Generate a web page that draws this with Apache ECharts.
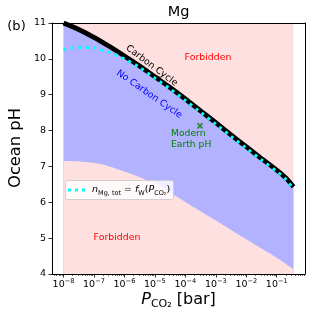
<!DOCTYPE html>
<html><head><meta charset="utf-8">
<script src="https://cdn.jsdelivr.net/npm/echarts@6/dist/echarts.min.js"></script>
<style>html,body{margin:0;padding:0;background:#fff}#c{width:312px;height:317px}</style>
</head><body><div id="c"></div>
<script>
// x values are log10(P_CO2 / bar)
const regionX = [-8, -0.45];
const topPH = [11, 11];
const carbonX = [-8, -7.5, -7, -6.5, -6, -5.5, -5, -4.5, -4, -3.5, -3, -2.5, -2, -1.5, -1, -0.7, -0.45];
const carbonPH = [11.0, 10.82, 10.6, 10.35, 10.08, 9.8, 9.5, 9.2, 8.88, 8.55, 8.22, 7.88, 7.55, 7.22, 6.9, 6.68, 6.43];
const lowerX = [-8, -7.5, -7, -6.5, -6, -5.5, -5, -4.5, -4, -3.5, -3, -2.5, -2, -1.5, -1, -0.45];
const lowerPH = [7.15, 7.14, 7.1, 7.0, 6.86, 6.7, 6.53, 6.27, 6.01, 5.75, 5.49, 5.23, 4.97, 4.71, 4.45, 4.13];
const fwX = [-8, -7.5, -7, -6.5, -6, -5.5, -5, -4.5, -4, -3.5, -3, -2.5, -2, -1.5, -1, -0.7, -0.45];
const fwPH = [10.26, 10.32, 10.3, 10.18, 10.0, 9.76, 9.46, 9.16, 8.84, 8.51, 8.18, 7.84, 7.51, 7.18, 6.86, 6.64, 6.38];
const modernX = [-3.52];
const modernPH = [8.13];
const xTickPowers = [-8, -7, -6, -5, -4, -3, -2, -1];
const yTicks = [4, 5, 6, 7, 8, 9, 10, 11];

const zip = (a, b) => a.map((v, i) => [v, b[i]]);
const minorTicks = [];
for (let n = -9; n <= 0; n++) for (let k = 2; k <= 9; k++) {
  const v = n + Math.log10(k);
  if (v > -8.37 && v < -0.08) minorTicks.push(v);
}
const FONT = 'DejaVu Sans';
const PINK = '#ffe0e0', BLUE = '#b2b2ff';

const chart = echarts.init(document.getElementById('c'), null, {renderer: 'canvas'});
chart.setOption({
  animation: false,
  grid: {left: 52, top: 23, width: 253, height: 251, show: false},
  xAxis: [{
    type: 'value', min: -8.3775, max: -0.0725, position: 'bottom', z: 10,
    axisLine: {show: true, lineStyle: {color: '#000', width: 1}},
    splitLine: {show: false},
    axisTick: {show: true, customValues: xTickPowers, length: 3.5, lineStyle: {color: '#000', width: 0.8}},
    axisLabel: {
      customValues: xTickPowers, margin: 4, color: '#000', fontFamily: FONT,
      formatter: v => '{b|10}{s|\u2212' + Math.abs(Math.round(v)) + '}',
      rich: {
        b: {fontSize: 9.5, lineHeight: 14, verticalAlign: 'middle', fontFamily: FONT, color: '#000'},
        s: {fontSize: 6.6, lineHeight: 7, verticalAlign: 'top', fontFamily: FONT, color: '#000'}
      }
    }
  }, {
    type: 'value', min: -8.3775, max: -0.0725, position: 'bottom', offset: 0, z: 10,
    axisLine: {show: false}, splitLine: {show: false}, axisLabel: {show: false},
    axisTick: {show: true, customValues: minorTicks, length: 2, lineStyle: {color: '#000', width: 0.6}}
  }, {
    type: 'value', min: -8.3775, max: -0.0725, position: 'top', z: 10,
    axisLine: {show: true, lineStyle: {color: '#000', width: 1}},
    axisTick: {show: false}, axisLabel: {show: false}, splitLine: {show: false}
  }],
  yAxis: [{
    type: 'value', min: 4, max: 11, interval: 1, position: 'left', z: 10,
    axisLine: {show: true, lineStyle: {color: '#000', width: 1}},
    splitLine: {show: false},
    axisTick: {show: true, length: 3.5, lineStyle: {color: '#000', width: 0.8}},
    axisLabel: {margin: 6, fontSize: 9.5, color: '#000', fontFamily: FONT}
  }, {
    type: 'value', min: 4, max: 11, interval: 1, position: 'right', z: 10,
    axisLine: {show: true, lineStyle: {color: '#000', width: 1}},
    axisTick: {show: false}, axisLabel: {show: false}, splitLine: {show: false}
  }],
  series: [
    {type: 'line', data: zip(regionX, topPH), symbol: 'none', lineStyle: {width: 0},
     areaStyle: {color: PINK, opacity: 1, origin: 'start'}, z: 1},
    {type: 'line', data: zip(carbonX, carbonPH), symbol: 'none', lineStyle: {width: 0},
     areaStyle: {color: BLUE, opacity: 1, origin: 'start'}, z: 2},
    {type: 'line', data: zip(lowerX, lowerPH), symbol: 'none', smooth: 0.3, lineStyle: {width: 0},
     areaStyle: {color: PINK, opacity: 1, origin: 'start'}, z: 3},
    {type: 'line', data: zip(carbonX, carbonPH), symbol: 'none', smooth: 0.3,
     lineStyle: {color: '#000', width: 4.8, cap: 'butt'}, z: 4},
    {type: 'line', data: zip(fwX, fwPH), symbol: 'none', smooth: 0.3,
     lineStyle: {color: '#00ffff', width: 3, type: [3, 4.5], cap: 'butt'}, z: 5},
    {type: 'scatter', data: zip(modernX, modernPH), symbol: 'path://M0,0L10,10M10,0L0,10', symbolSize: 5,
     itemStyle: {color: 'rgba(0,0,0,0)', borderColor: '#008000', borderWidth: 1.6}, z: 6}
  ],
  graphic: [
    {type: 'text', z: 100, x: 178.5, y: 12.5, style: {text: 'Mg', fontSize: 14.5, fontFamily: FONT, fill: '#000', align: 'center', verticalAlign: 'middle'}},
    {type: 'text', z: 100, x: 16.5, y: 27, style: {text: '(b)', fontSize: 13, fontFamily: FONT, fill: '#000', align: 'center', verticalAlign: 'middle'}},
    {type: 'text', z: 100, x: 16, y: 148, rotation: Math.PI / 2, style: {text: 'Ocean pH', fontSize: 16.3, fontFamily: FONT, fill: '#000', align: 'center', verticalAlign: 'middle'}},
    {type: 'text', z: 100, x: 178.5, y: 300, style: {
      text: '{i|P}{sub|CO\u2082}{r| [bar]}', fill: '#000', align: 'center', verticalAlign: 'middle',
      rich: {
        i: {fontSize: 16, fontStyle: 'italic', fontFamily: FONT, lineHeight: 20, verticalAlign: 'middle', fill: '#000'},
        r: {fontSize: 16, fontFamily: FONT, lineHeight: 20, verticalAlign: 'middle', fill: '#000'},
        sub: {fontSize: 11, fontFamily: FONT, lineHeight: 10, verticalAlign: 'bottom', fill: '#000'}
      }}},
    {type: 'text', z: 100, x: 208, y: 58, style: {text: 'Forbidden', fontSize: 9.4, fontFamily: FONT, fill: '#ff0000', align: 'center', verticalAlign: 'middle'}},
    {type: 'text', z: 100, x: 117, y: 238, style: {text: 'Forbidden', fontSize: 9.4, fontFamily: FONT, fill: '#ff0000', align: 'center', verticalAlign: 'middle'}},
    {type: 'text', z: 100, x: 151.7, y: 65.7, rotation: -37 * Math.PI / 180, style: {text: 'Carbon Cycle', fontSize: 9.3, fontFamily: FONT, fill: '#000', align: 'center', verticalAlign: 'middle'}},
    {type: 'text', z: 100, x: 149.2, y: 94.2, rotation: -34.7 * Math.PI / 180, style: {text: 'No Carbon Cycle', fontSize: 9.3, fontFamily: FONT, fill: '#0000ff', align: 'center', verticalAlign: 'middle'}},
    {type: 'text', z: 100, x: 171, y: 128.5, style: {text: 'Modern\nEarth pH', fontSize: 9.2, lineHeight: 10.5, fontFamily: FONT, fill: '#008000', align: 'left', verticalAlign: 'top'}},
    {type: 'rect', shape: {x: 65.5, y: 180.5, width: 108, height: 19, r: 2}, style: {fill: 'rgba(255,255,255,0.8)', stroke: '#d0d0d0', lineWidth: 1}, z: 100},
    {type: 'line', shape: {x1: 68, y1: 190, x2: 87, y2: 190}, style: {stroke: '#00ffff', lineWidth: 3, lineDash: [3, 4], lineCap: 'butt'}, z: 101},
    {type: 'text', x: 92, y: 190, z: 101, style: {
      text: '{i|n}{sub|Mg, tot}{r| = }{i|f}{sub|W}{r|(}{i|P}{sub|CO\u2082}{r|)}', fill: '#000', align: 'left', verticalAlign: 'middle',
      rich: {
        i: {fontSize: 9.5, fontStyle: 'italic', fontFamily: FONT, lineHeight: 13, verticalAlign: 'middle', fill: '#000'},
        r: {fontSize: 9.5, fontFamily: FONT, lineHeight: 13, verticalAlign: 'middle', fill: '#000'},
        sub: {fontSize: 6.5, fontFamily: FONT, lineHeight: 7, verticalAlign: 'bottom', fill: '#000'}
      }}}
  ]
});
</script></body></html>
